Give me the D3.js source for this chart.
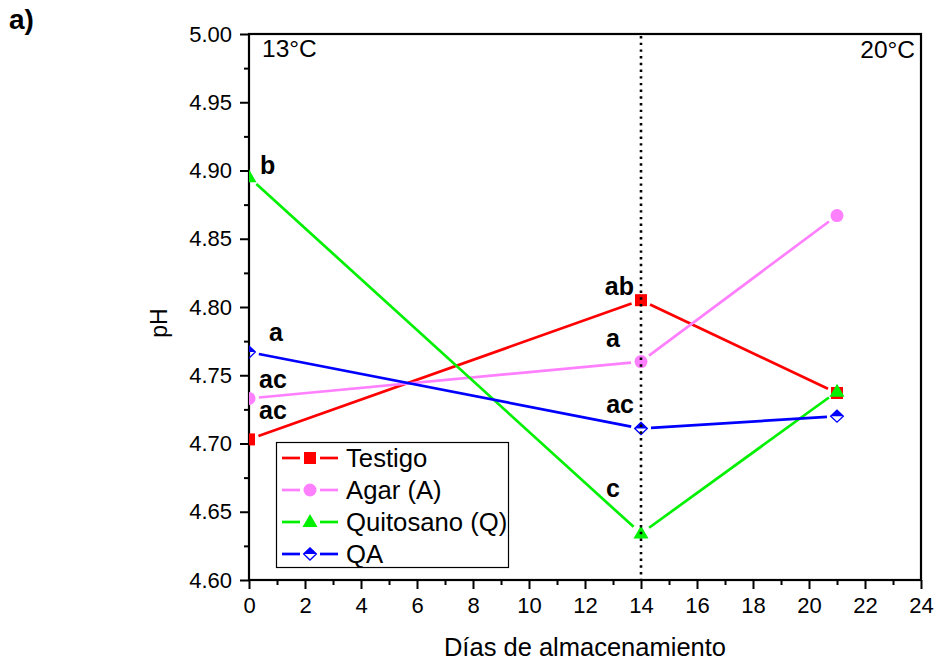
<!DOCTYPE html>
<html><head><meta charset="utf-8">
<script src="https://cdn.jsdelivr.net/npm/d3@7"></script>
<style>
html,body{margin:0;padding:0;background:#fff;}
svg{display:block;font-family:"Liberation Sans",Arial,sans-serif;}
</style></head>
<body>
<svg id="chart" width="937" height="663"></svg>
<script>
// ---- data ----
const days = [0, 14, 21];
const seriesNames = ["Testigo", "Agar (A)", "Quitosano (Q)", "QA"];
const testigo   = [4.703, 4.805, 4.737];
const agar      = [4.733, 4.760, 4.867];
const quitosano = [4.895, 4.634, 4.738];
const qa        = [4.767, 4.711, 4.720];
const xTicks = [0, 2, 4, 6, 8, 10, 12, 14, 16, 18, 20, 22, 24];
const yTicks = [4.60, 4.65, 4.70, 4.75, 4.80, 4.85, 4.90, 4.95, 5.00];
const tempLabels = ["13°C", "20°C"];
const splitDay = 14;
// significance letters: [series index, point index, text]
const letters = [
  [2, 0, "b"], [3, 0, "a"], [1, 0, "ac"], [0, 0, "ac"],
  [0, 1, "ab"], [1, 1, "a"], [3, 1, "ac"], [2, 1, "c"]
];

// ---- style/layout ----
const colors = ["#ff0000", "#ff80ff", "#00f000", "#0000ff"];
const shapes = ["square", "circle", "triangle", "diamond"];
const M = {left: 249, top: 34, right: 921, bottom: 580};
const svg = d3.select("#chart");
const x = d3.scaleLinear().domain([0, 24]).range([M.left, M.right]);
const y = d3.scaleLinear().domain([4.60, 5.00]).range([M.bottom, M.top]);
const allSeries = [testigo, agar, quitosano, qa];

svg.append("defs").append("clipPath").attr("id", "plotclip")
  .append("rect").attr("x", M.left).attr("y", M.top - 10)
  .attr("width", M.right - M.left + 10).attr("height", M.bottom - M.top + 20);

// ---- axes ----
const fontTick = 22;
const yAxis = svg.append("g").attr("transform", `translate(${M.left},0)`)
  .call(d3.axisLeft(y).tickValues(yTicks).tickFormat(d3.format(".2f")).tickSize(9).tickPadding(8));
const yMinor = svg.append("g").attr("transform", `translate(${M.left},0)`)
  .call(d3.axisLeft(y).tickValues(d3.range(4.625, 5.0, 0.05)).tickFormat("").tickSize(5));
const xAxis = svg.append("g").attr("transform", `translate(0,${M.bottom})`)
  .call(d3.axisBottom(x).tickValues(xTicks).tickFormat(d3.format("d")).tickSize(9).tickPadding(8));
const xMinor = svg.append("g").attr("transform", `translate(0,${M.bottom})`)
  .call(d3.axisBottom(x).tickValues(d3.range(1, 24, 2)).tickFormat("").tickSize(5));
[yAxis, yMinor, xAxis, xMinor].forEach(g => {
  g.select(".domain").remove();
  g.selectAll("line").attr("stroke", "#000").attr("stroke-width", 2);
  g.selectAll("text").attr("font-size", fontTick).attr("fill", "#000")
    .attr("font-family", "Liberation Sans, Arial, sans-serif");
});
// frame
svg.append("rect").attr("x", M.left).attr("y", M.top)
  .attr("width", M.right - M.left).attr("height", M.bottom - M.top)
  .attr("fill", "none").attr("stroke", "#000").attr("stroke-width", 2.2);

// axis titles
svg.append("text").attr("x", 585).attr("y", 656)
  .attr("text-anchor", "middle").attr("font-size", 25.5).text("Días de almacenamiento");
svg.append("text").attr("transform", "translate(167,323) rotate(-90)")
  .attr("text-anchor", "middle").attr("font-size", 23).text("pH");
svg.append("text").attr("x", 9).attr("y", 29).attr("font-size", 28)
  .attr("font-weight", "bold").text("a)");
svg.append("text").attr("x", x(0) + 13).attr("y", 57).attr("font-size", 24.5).text(tempLabels[0]);
svg.append("text").attr("x", x(24) - 6).attr("y", 58).attr("text-anchor", "end")
  .attr("font-size", 24.5).text(tempLabels[1]);

// ---- marker drawing ----
function drawMarker(g, shape, cx, cy, color) {
  if (shape === "square") {
    g.append("rect").attr("x", cx - 6).attr("y", cy - 6).attr("width", 12).attr("height", 12).attr("fill", color);
  } else if (shape === "circle") {
    g.append("circle").attr("cx", cx).attr("cy", cy).attr("r", 6.5).attr("fill", color);
  } else if (shape === "triangle") {
    g.append("path").attr("d", `M${cx},${cy - 8}L${cx + 7.5},${cy + 5}L${cx - 7.5},${cy + 5}Z`).attr("fill", color);
  } else if (shape === "diamond") {
    g.append("path").attr("d", `M${cx - 7},${cy}L${cx},${cy - 6.5}L${cx + 7},${cy}Z`).attr("fill", color);
    g.append("path").attr("d", `M${cx - 6.3},${cy}L${cx},${cy - 6}L${cx + 6.3},${cy}L${cx},${cy + 6}Z`)
      .attr("fill", "none").attr("stroke", color).attr("stroke-width", 1.3);
  }
}
const gap = 10;
function segment(g, x1, y1, x2, y2, color, width) {
  const dx = x2 - x1, dy = y2 - y1, L = Math.hypot(dx, dy);
  const ux = dx / L, uy = dy / L;
  g.append("line").attr("x1", x1 + ux * gap).attr("y1", y1 + uy * gap)
    .attr("x2", x2 - ux * gap).attr("y2", y2 - uy * gap)
    .attr("stroke", color).attr("stroke-width", width);
}

// ---- series ----
const plot = svg.append("g").attr("clip-path", "url(#plotclip)");
allSeries.forEach((vals, si) => {
  const g = plot.append("g");
  for (let i = 0; i < days.length - 1; i++) {
    segment(g, x(days[i]), y(vals[i]), x(days[i + 1]), y(vals[i + 1]), colors[si], 2.7);
  }
});
allSeries.forEach((vals, si) => {
  const g = plot.append("g");
  days.forEach((d, i) => drawMarker(g, shapes[si], x(d), y(vals[i]), colors[si]));
});

// dotted separator
svg.append("line").attr("x1", x(splitDay)).attr("x2", x(splitDay))
  .attr("y1", M.top + 2).attr("y2", M.bottom)
  .attr("stroke", "#000").attr("stroke-width", 2.6).attr("stroke-dasharray", "2.4,4.3");

// letters
const letterOffsets = [
  [11, -3, "start"], [20, -11, "start"], [10, -10, "start"], [10, -20, "start"],
  [-7, -5, "end"], [-21, -15, "end"], [-7, -15, "end"], [-21, -37, "end"]
];
letters.forEach((l, k) => {
  const [si, pi, txt] = l;
  const [ox, oy, anchor] = letterOffsets[k];
  svg.append("text").attr("x", x(days[pi]) + ox).attr("y", y(allSeries[si][pi]) + oy)
    .attr("text-anchor", anchor).attr("font-size", 25).attr("font-weight", "bold").text(txt);
});

// ---- legend ----
const lg = svg.append("g");
lg.append("rect").attr("x", 276.5).attr("y", 442.5).attr("width", 232).attr("height", 125)
  .attr("fill", "#fff").attr("stroke", "#000").attr("stroke-width", 1.2);
seriesNames.forEach((name, si) => {
  const cy = 458 + si * 32;
  lg.append("line").attr("x1", 282).attr("x2", 300).attr("y1", cy).attr("y2", cy)
    .attr("stroke", colors[si]).attr("stroke-width", 2.7);
  lg.append("line").attr("x1", 320).attr("x2", 338).attr("y1", cy).attr("y2", cy)
    .attr("stroke", colors[si]).attr("stroke-width", 2.7);
  drawMarker(lg, shapes[si], 310, cy, colors[si]);
  lg.append("text").attr("x", 346).attr("y", cy + 9).attr("font-size", 25.7).text(name);
});
</script>
</body></html>
